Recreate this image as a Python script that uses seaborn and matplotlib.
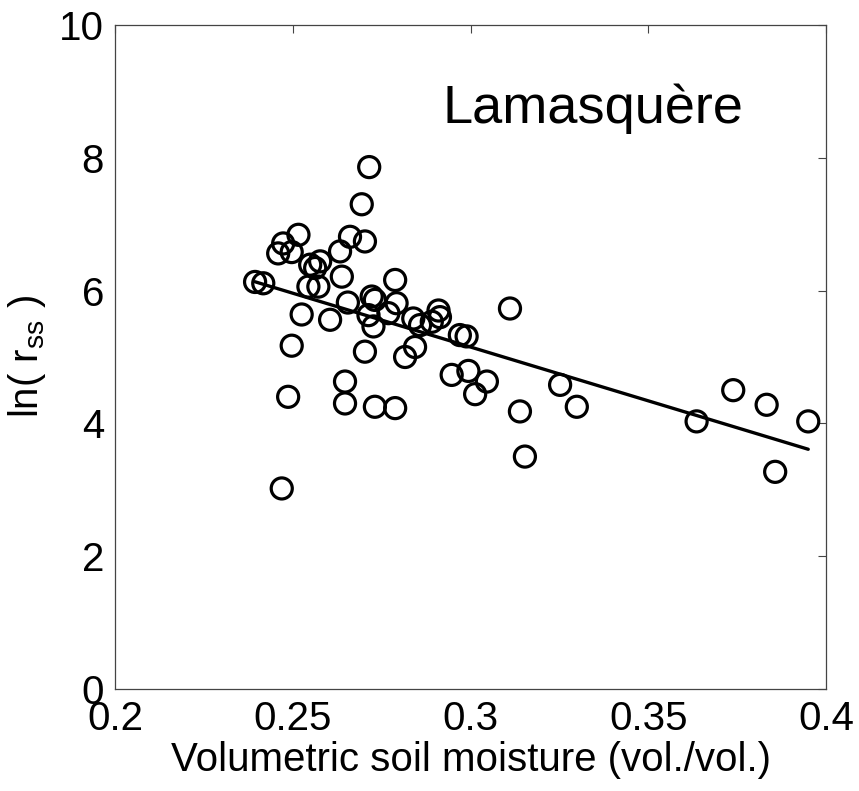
import numpy as np
import pandas as pd
import matplotlib
matplotlib.use("Agg")
import matplotlib.pyplot as plt
import seaborn as sns

# soil moisture (vol./vol.) and ln(r_ss)
moisture = [0.2394, 0.2417, 0.2459, 0.2473, 0.2497, 0.2516, 0.2469, 0.2487,
            0.2497, 0.2525, 0.2544, 0.2549, 0.2563, 0.2572, 0.2577, 0.2605,
            0.2633, 0.2638, 0.2647, 0.2647, 0.2655, 0.2661, 0.2694, 0.2703,
            0.2703, 0.2715, 0.2713, 0.2722, 0.2731, 0.2727, 0.2731, 0.2769,
            0.2788, 0.2792, 0.2788, 0.2816, 0.2839, 0.2844, 0.2858, 0.2891,
            0.2910, 0.2914, 0.2947, 0.2970, 0.2989, 0.2994, 0.3013, 0.3046,
            0.3111, 0.3139, 0.3153, 0.3252, 0.3299, 0.3636, 0.3739, 0.3833,
            0.3857, 0.3950]
ln_rss = [6.13, 6.11, 6.56, 6.71, 6.58, 6.84, 3.02, 4.40,
          5.17, 5.64, 6.06, 6.39, 6.34, 6.06, 6.44, 5.56,
          6.59, 6.21, 4.63, 4.30, 5.82, 6.81, 7.30, 6.74,
          5.08, 7.86, 5.63, 5.91, 5.86, 5.46, 4.25, 5.66,
          6.16, 5.81, 4.23, 5.00, 5.58, 5.15, 5.48, 5.53,
          5.70, 5.60, 4.73, 5.33, 5.31, 4.79, 4.44, 4.63,
          5.73, 4.18, 3.50, 4.58, 4.25, 4.03, 4.50, 4.28,
          3.27, 4.03]

x_ticks = [0.2, 0.25, 0.3, 0.35, 0.4]
x_tick_labels = ["0.2", "0.25", "0.3", "0.35", "0.4"]
y_ticks = [0, 2, 4, 6, 8, 10]

df = pd.DataFrame({"theta": moisture, "lnr": ln_rss})

sns.set_style("white")
plt.rcParams["font.family"] = ["Liberation Sans", "DejaVu Sans"]
plt.rcParams["mathtext.default"] = "regular"
plt.rcParams["text.color"] = "black"
plt.rcParams["axes.labelcolor"] = "black"
plt.rcParams["xtick.color"] = "black"
plt.rcParams["ytick.color"] = "black"

fig = plt.figure(figsize=(8.59, 7.91), dpi=100)
ax = fig.add_axes([0.1339, 0.1290, 0.8277, 0.8394])

sns.scatterplot(data=df, x="theta", y="lnr", ax=ax, marker="o", s=230,
                facecolor="none", edgecolor="black", linewidth=2.3, legend=False)
sns.regplot(data=df, x="theta", y="lnr", ax=ax, scatter=False, ci=None,
            color="black", line_kws={"linewidth": 2.4})

ax.set_xlim(0.2, 0.4)
ax.set_ylim(0, 10)
ax.set_xticks(x_ticks)
ax.set_xticklabels(x_tick_labels)
ax.set_yticks(y_ticks)
ax.tick_params(direction="in", length=6, width=0.8, color="#444444",
               labelcolor="black", labelsize=29, top=True, right=True, pad=8)

for sp in ax.spines.values():
    sp.set_color("#444444")
    sp.set_linewidth(0.9)

ax.set_xlabel("Volumetric soil moisture (vol./vol.)", fontsize=29, labelpad=2,
              color="black")
ax.set_ylabel("ln( r$_{ss}$ )", fontsize=29, labelpad=8, color="black")

ax.text(0.292, 8.52, "Lamasquère", fontsize=39, ha="left", va="baseline",
        color="black")

fig.savefig("out.png", dpi=100)
